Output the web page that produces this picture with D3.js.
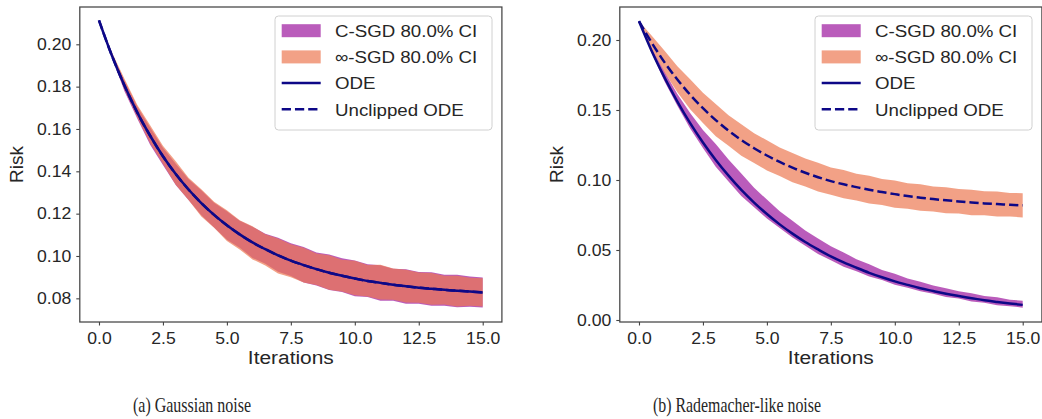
<!DOCTYPE html>
<html><head><meta charset="utf-8">
<script src="https://cdn.jsdelivr.net/npm/d3@7"></script>
<style>
body{margin:0;background:#fff}
svg text{font-family:"Liberation Sans",Arial,Helvetica,sans-serif;fill:#262626}
.sx{transform-box:fill-box;transform:scaleX(1.1)}
.oc{transform-origin:center}
.or{transform-origin:right center}
.ol{transform-origin:left center}
</style></head><body>
<svg id="c" width="1042" height="419"></svg>
<script>
// ---------- data ----------
const iterations = [0,0.5,1,1.5,2,2.5,3,3.5,4,4.5,5,5.5,6,6.5,7,7.5,8,8.5,9,9.5,10,10.5,11,11.5,12,12.5,13,13.5,14,14.5,15];

// (a) Gaussian noise
const gaussODE = [.2113,.1948,.1804,.1677,.1568,.1471,.1387,.1314,.1250,.1194,.1145,.1102,.1064,.1032,.1003,.0978,.0957,.0938,.0921,.0907,.0894,.0882,.0873,.0864,.0857,.0850,.0845,.0840,.0836,.0832,.0828];
const gaussUnclipped = [.2113,.1948,.1804,.1677,.1568,.1471,.1387,.1314,.1250,.1194,.1145,.1102,.1064,.1032,.1003,.0978,.0957,.0938,.0921,.0907,.0894,.0882,.0873,.0864,.0857,.0850,.0845,.0840,.0836,.0832,.0828];
const gaussCsgdHigh = [.2113,.1959,.1828,.1705,.1607,.1511,.1436,.1364,.1310,.1251,.1211,.1167,.1138,.1105,.1086,.1060,.1042,.1016,.1007,.0989,.0979,.0961,.0956,.0940,.0937,.0924,.0923,.0911,.0911,.0903,.0899];
const gaussCsgdLow  = [.2113,.1940,.1777,.1648,.1526,.1430,.1335,.1265,.1192,.1135,.1077,.1039,.0991,.0963,.0926,.0905,.0875,.0861,.0839,.0830,.0810,.0806,.0789,.0788,.0775,.0775,.0765,.0765,.0758,.0760,.0757];
const gaussInfHigh  = [.2113,.1964,.1836,.1713,.1618,.1521,.1448,.1370,.1315,.1256,.1216,.1169,.1140,.1103,.1083,.1056,.1039,.1012,.1003,.0982,.0978,.0958,.0959,.0941,.0935,.0922,.0920,.0907,.0907,.0897,.0895];
const gaussInfLow   = [.2113,.1941,.1785,.1654,.1533,.1436,.1337,.1264,.1187,.1133,.1071,.1031,.0984,.0955,.0917,.0900,.0875,.0863,.0841,.0832,.0814,.0809,.0794,.0793,.0780,.0779,.0770,.0771,.0762,.0765,.0761];

// (b) Rademacher-like noise
const radeODE = [.2134,.1920,.1731,.1560,.1406,.1268,.1143,.1031,.0929,.0839,.0757,.0683,.0617,.0557,.0504,.0454,.0411,.0373,.0337,.0305,.0276,.0251,.0227,.0207,.0187,.0171,.0156,.0141,.0129,.0118,.0108];
const radeUnclipped = [.2134,.1980,.1840,.1718,.1609,.1513,.1428,.1352,.1286,.1227,.1175,.1129,.1088,.1052,.1020,.0992,.0969,.0949,.0930,.0914,.0899,.0885,.0874,.0864,.0855,.0847,.0839,.0833,.0828,.0823,.0819];
const radeCsgdHigh = [.2134,.1941,.1774,.1614,.1478,.1358,.1258,.1146,.1046,.0945,.0860,.0777,.0709,.0639,.0582,.0526,.0483,.0434,.0398,.0358,.0330,.0296,.0273,.0246,.0227,.0205,.0191,.0171,.0162,.0145,.0138];
const radeCsgdLow  = [.2134,.1905,.1703,.1531,.1368,.1229,.1095,.0990,.0886,.0806,.0725,.0657,.0589,.0530,.0471,.0426,.0381,.0348,.0310,.0285,.0252,.0231,.0205,.0188,.0165,.0153,.0133,.0123,.0106,.0099,.0088];
const radeInfHigh  = [.2134,.2031,.1924,.1813,.1719,.1623,.1543,.1463,.1398,.1334,.1284,.1232,.1193,.1153,.1123,.1090,.1071,.1045,.1031,.1008,.0996,.0977,.0969,.0954,.0948,.0935,.0930,.0919,.0917,.0908,.0906];
const radeInfLow   = [.2134,.1939,.1767,.1627,.1505,.1407,.1313,.1244,.1174,.1122,.1068,.1028,.0984,.0953,.0917,.0895,.0869,.0854,.0833,.0821,.0802,.0795,.0780,.0775,.0763,.0760,.0749,.0748,.0739,.0739,.0733];

// ticks & labels
const xTicks = [0,2.5,5,7.5,10,12.5,15];
const gaussYTicks = [0.08,0.10,0.12,0.14,0.16,0.18,0.20];
const radeYTicks = [0.00,0.05,0.10,0.15,0.20];
const legendLabels = ["C-SGD 80.0% CI","\u221E-SGD 80.0% CI","ODE","Unclipped ODE"];
const xLabel = "Iterations", yLabel = "Risk";
const captions = ["(a) Gaussian noise","(b) Rademacher-like noise"];

// ---------- drawing ----------
const PURPLE = "#9c179e", SALMON = "#ed7953", NAVY = "#0d0887", BAND_OP = 0.7;
const svg = d3.select("#c");

const panels = [
  {x0:79.8, x1:501.9, yDom:[0.06882,0.21762], yTicks:gaussYTicks, fmt:".2f",
   ode:gaussODE, unc:gaussUnclipped, cH:gaussCsgdHigh, cL:gaussCsgdLow, iH:gaussInfHigh, iL:gaussInfLow,
   legendX:275, caption:captions[0], capX:192, capW:118},
  {x0:619.8, x1:1041.9, yDom:[-0.00143,0.22357], yTicks:radeYTicks, fmt:".2f",
   ode:radeODE, unc:radeUnclipped, cH:radeCsgdHigh, cL:radeCsgdLow, iH:radeInfHigh, iL:radeInfLow,
   legendX:815, caption:captions[1], capX:737, capW:168}
];
const plotTop = 7, plotBottom = 322;

panels.forEach(p => {
  const x = d3.scaleLinear().domain([-0.75,15.75]).range([p.x0,p.x1]);
  const y = d3.scaleLinear().domain(p.yDom).range([plotBottom,plotTop]);
  const g = svg.append("g");

  const area = (hi, lo) => d3.area().x((d,i)=>x(iterations[i])).y0((d,i)=>y(lo[i])).y1((d,i)=>y(hi[i]));
  g.append("path").datum(p.cH).attr("d", area(p.cH,p.cL)).attr("fill",PURPLE).attr("fill-opacity",BAND_OP);
  g.append("path").datum(p.iH).attr("d", area(p.iH,p.iL)).attr("fill",SALMON).attr("fill-opacity",BAND_OP);

  const line = d3.line().x((d,i)=>x(iterations[i])).y(d=>y(d)).curve(d3.curveMonotoneX);
  g.append("path").datum(p.unc).attr("d",line).attr("fill","none").attr("stroke",NAVY)
    .attr("stroke-width",2.5).attr("stroke-dasharray","9.25,4");
  g.append("path").datum(p.ode).attr("d",line).attr("fill","none").attr("stroke",NAVY).attr("stroke-width",2.5);

  // frame
  g.append("rect").attr("x",p.x0).attr("y",plotTop).attr("width",p.x1-p.x0).attr("height",plotBottom-plotTop)
    .attr("fill","none").attr("stroke","#444").attr("stroke-width",1.25);

  // axes
  const xa = g.append("g").attr("transform",`translate(0,${plotBottom})`)
    .call(d3.axisBottom(x).tickValues(xTicks).tickFormat(d3.format(".1f")).tickSize(3.5).tickSizeOuter(0).tickPadding(7));
  const ya = g.append("g").attr("transform",`translate(${p.x0},0)`)
    .call(d3.axisLeft(y).tickValues(p.yTicks).tickFormat(d3.format(p.fmt)).tickSize(3.5).tickSizeOuter(0).tickPadding(5));
  [xa,ya].forEach(a=>{
    a.select(".domain").remove();
    a.selectAll("line").attr("stroke","#444").attr("stroke-width",1.1);
    a.selectAll("text").style("font-size","16px").attr("fill","#262626")
      .style("font-family","'Liberation Sans',Arial,sans-serif");
  });
  xa.selectAll("text").attr("class","sx oc");
  ya.selectAll("text").attr("class","sx or");

  // axis labels
  g.append("text").attr("class","sx oc").attr("x",(p.x0+p.x1)/2).attr("y",364)
    .attr("text-anchor","middle").style("font-size","19px").text(xLabel);
  g.append("text").attr("transform",`translate(${p.x0-63},${(plotTop+plotBottom)/2}) rotate(-90)`)
    .attr("text-anchor","middle").attr("dy","0.35em").style("font-size","19px").text(yLabel);

  // legend
  const lx = p.legendX, ly = 16;
  const lg = g.append("g");
  lg.append("rect").attr("x",lx).attr("y",ly).attr("width",217).attr("height",114).attr("rx",3.5)
    .attr("fill","#fff").attr("fill-opacity",0.8).attr("stroke","#d0d0d0").attr("stroke-width",1);
  legendLabels.forEach((lab,k)=>{
    const cy = 30.7 + 26.2*k;
    if (k<2) {
      lg.append("rect").attr("x",lx+6.7).attr("y",cy-6.5).attr("width",39).attr("height",13)
        .attr("fill",k===0?PURPLE:SALMON).attr("fill-opacity",BAND_OP);
    } else {
      lg.append("line").attr("x1",lx+6.7).attr("x2",lx+45.7).attr("y1",cy).attr("y2",cy)
        .attr("stroke",NAVY).attr("stroke-width",2.5).attr("stroke-dasharray",k===3?"9.25,4":null);
    }
    lg.append("text").attr("class","sx ol").attr("x",lx+60).attr("y",cy+6.3)
      .style("font-size","17px").text(lab);
  });

  // caption
  svg.append("text").attr("x",p.capX).attr("y",412).attr("text-anchor","middle")
    .attr("textLength",p.capW).attr("lengthAdjust","spacingAndGlyphs")
    .style("font-family","'Liberation Serif','Times New Roman',serif").style("font-size","22px")
    .attr("fill","#111").text(p.caption);
});
</script>
</body></html>
